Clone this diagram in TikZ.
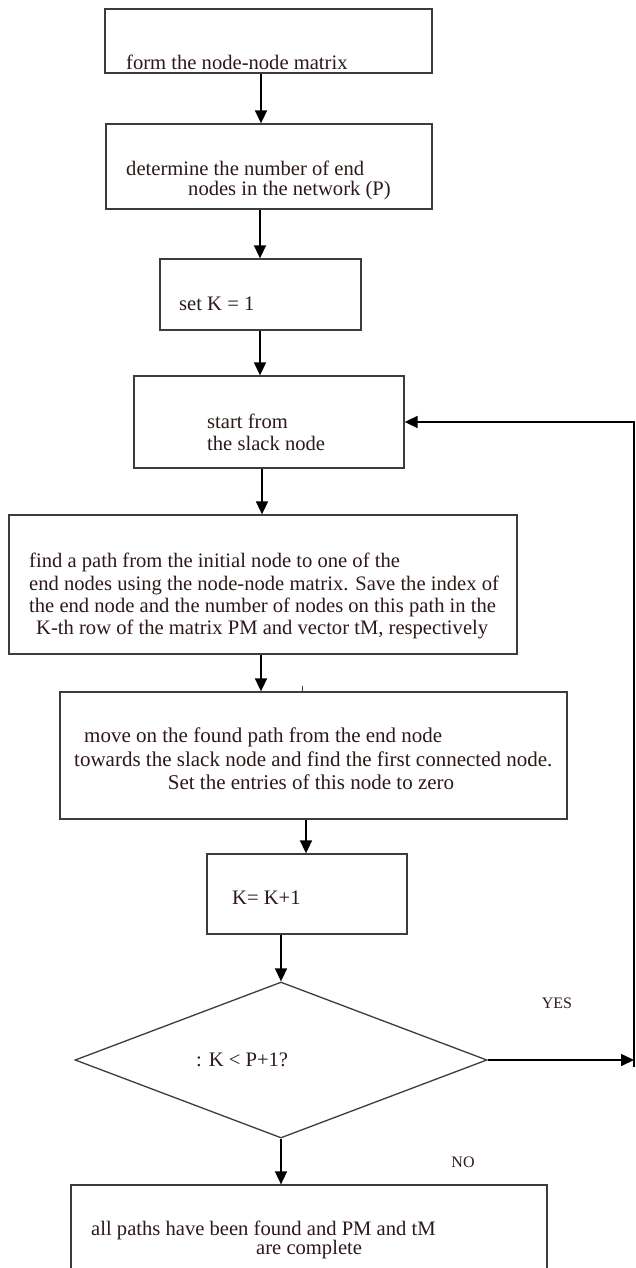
\documentclass[tikz,border=0pt]{standalone}
\usepackage{fontspec}
\setmainfont{Liberation Serif}
\usetikzlibrary{arrows.meta,shapes.geometric,fit}
\definecolor{boxc}{RGB}{60,60,60}
\definecolor{txtc}{RGB}{45,25,25}
\begin{document}
\begin{tikzpicture}[x=1pt,y=-1pt,
  box/.style={draw=boxc,line width=1.3pt,inner sep=0pt,rectangle},
  txt/.style={text=txtc,inner sep=0pt,anchor=west,font=\fontsize{20.6}{23}\selectfont},
  txtb/.style={txt,font=\fontsize{21}{24}\selectfont},
  lbl/.style={text=txtc,inner sep=0pt,font=\fontsize{16}{19}\selectfont},
  arr/.style={draw=black,line width=1.6pt,-{Triangle[length=13pt,width=12pt]}}]
\useasboundingbox (0,0) rectangle (635,1268);
\fill[white] (0,0) rectangle (635,1268);
% boxes
\node[box,fit={(105,9) (432,73)}] (b1) {};
\node[box,fit={(106,124) (432,209)}] (b2) {};
\node[box,fit={(160,259) (361,330)}] (b3) {};
\node[box,fit={(134,376) (404,468)}] (b4) {};
\node[box,fit={(9,515) (517,654)}] (b5) {};
\node[box,fit={(60,692) (567,819)}] (b6) {};
\node[box,fit={(207,854) (407,934)}] (b7) {};
\node[draw=boxc,line width=1.3pt,diamond,inner sep=0pt,minimum width=412pt,minimum height=156pt] (d) at (281,1060) {};
\node[box,fit={(71,1185) (547,1300)}] (b8) {};
% texts
\node[txt] (t1) at (126,62) {form the node-node matrix};
\node[txt] (t2a) at (126,168) {determine the number of end};
\node[txt] (t2b) at (188,191) {nodes in the network (P)};
\node[txt] (t3) at (179,304) {set K = 1};
\node[txt] (t4a) at (207,421) {start from};
\node[txt] (t4b) at (207,443) {the slack node};
\node[txt] (t5a) at (29,562) {find a path from the initial node to one of the};
\node[txt] (t5b) at (29,585) {end nodes using the node-node matrix. Save the index of};
\node[txt] (t5c) at (29,607) {the end node and the number of nodes on this path in the};
\node[txt] (t5d) at (36,629) {K-th row of the matrix PM and vector tM, respectively};
\node[txtb] (t6a) at (84,737) {move on the found path from the end node};
\node[txtb] (t6b) at (74,759) {towards the slack node and find the first connected node.};
\node[txtb,anchor=center] (t6c) at (311,782) {Set the entries of this node to zero};
\node[txt] (t7) at (232,898) {K= K+1};
\node[txt] (td) at (196,1060) {: K < P+1?};
\node[txt] (t8a) at (91,1230) {all paths have been found and PM and tM};
\node[txt] (t8b) at (256,1250) {are complete};
\node[lbl] (yes) at (557,1003) {YES};
\node[lbl] (no) at (463,1162) {NO};
% connectors
\draw[arr] ([xshift=-7.5pt]b1.south) -- ([xshift=-7.5pt]b1.south |- b2.north);
\draw[arr] ([xshift=-9pt]b2.south) -- ([xshift=-9pt]b2.south |- b3.north);
\draw[arr] ([xshift=-0.5pt]b3.south) -- ([xshift=-0.5pt]b3.south |- b4.north);
\draw[arr] ([xshift=-7pt]b4.south) -- ([xshift=-7pt]b4.south |- b5.north);
\draw[arr] ([xshift=-2pt]b5.south) -- ([xshift=-2pt]b5.south |- b6.north);
\draw[line width=1pt,boxc] ([xshift=39pt]b5.south |- b6.north) -- ++(0,-5);
\draw[arr] ([xshift=-7.5pt]b6.south) -- ([xshift=-7.5pt]b6.south |- b7.north);
\draw[arr] (b7.south -| d.north) -- (d.north);
\draw[arr] (d.south) -- (d.south |- b8.north);
\coordinate (lb) at (634,1067);
\coordinate (lt) at (634,422);
\draw[arr] (d.east) -- (d.east -| lb);
\draw[arr] (lb) -- (lt) -- (b4.east);
\end{tikzpicture}
\end{document}
